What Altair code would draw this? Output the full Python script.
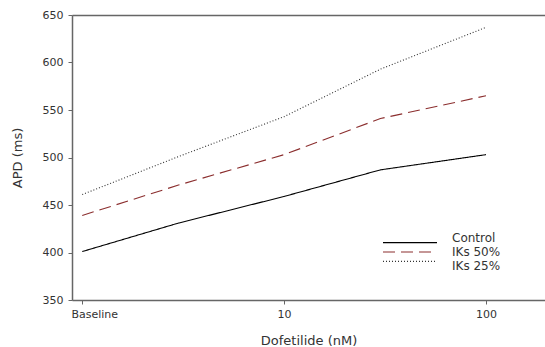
import altair as alt
import pandas as pd

conc = [1, 3, 10, 30, 100]  # 1 = Baseline position
control = [401, 431, 459, 487, 503]
iks50 = [439, 471, 503, 541, 565]
iks25 = [461, 501, 543, 593, 637]
series = ["Control", "IKs 50%", "IKs 25%"]
x_ticks = [1, 10, 100]
y_ticks = [350, 400, 450, 500, 550, 600, 650]

rows = []
for name, vals in zip(series, [control, iks50, iks25]):
    for c, v in zip(conc, vals):
        rows.append({"conc": c, "apd": v, "series": name})
df = pd.DataFrame(rows)
leg_df = pd.DataFrame({"series": series})

font = "DejaVu Sans"
axis_col = "#666666"
text_col = "#333333"

color_scale = alt.Scale(domain=series, range=["#000000", "#8B2E2E", "#333333"])
dash_scale = alt.Scale(domain=series, range=[[1, 0], [12, 6], [1, 2]])

lines = alt.Chart(df).mark_line(strokeWidth=1.1, clip=True).encode(
    x=alt.X("conc:Q",
            scale=alt.Scale(type="log", domain=[0.89, 196], nice=False),
            axis=alt.Axis(title="Dofetilide (nM)", values=x_ticks,
                          labelExpr="datum.value == 1 ? 'Baseline' : datum.label",
                          labelOffset={"condition": {"test": "datum.value == 1", "value": 12}, "value": 0},
                          grid=False, tickSize=4, domainColor=axis_col, tickColor=axis_col,
                          domainWidth=1.5, labelFont=font, labelFontSize=11, labelColor=text_col,
                          titleFont=font, titleFontSize=13, titleFontWeight="normal",
                          titleColor=text_col, labelPadding=4, titlePadding=15, labelFlush=False)),
    y=alt.Y("apd:Q",
            scale=alt.Scale(domain=[350, 650], nice=False),
            axis=alt.Axis(title="APD (ms)", values=y_ticks, grid=True,
                          gridColor={"condition": {"test": "datum.value == 650", "value": axis_col}, "value": "transparent"},
                          gridWidth=1.5,
                          tickSize=4, domainColor=axis_col, tickColor=axis_col, domainWidth=1.5,
                          labelFont=font, labelFontSize=11, labelColor=text_col, labelPadding=5,
                          titleFont=font, titleFontSize=13, titleFontWeight="normal",
                          titleColor=text_col, titlePadding=18)),
    color=alt.Color("series:N", scale=color_scale, legend=None),
    strokeDash=alt.StrokeDash("series:N", scale=dash_scale, legend=None),
    order="conc:Q",
)

leg_y = alt.Y("series:N", scale=alt.Scale(domain=series, range=[223, 251], padding=0), axis=None)

leg_rules = alt.Chart(leg_df).mark_rule(strokeWidth=1.1).encode(
    y=leg_y,
    x=alt.value(311), x2=alt.value(365),
    color=alt.Color("series:N", scale=color_scale, legend=None),
    strokeDash=alt.StrokeDash("series:N", scale=dash_scale, legend=None),
)

leg_text = alt.Chart(leg_df).mark_text(align="left", baseline="middle", font=font,
                                       fontSize=12, color=text_col).encode(
    y=leg_y,
    x=alt.value(380),
    text="series:N",
)

chart = alt.layer(lines, leg_rules, leg_text).resolve_scale(y="independent").properties(
    width=473, height=285,
    autosize=alt.AutoSizeParams(type="none"),
    padding={"left": 72, "top": 15, "right": 0, "bottom": 47},
).configure_view(stroke=None).configure(background="white")

chart.save("out.html", embed_options={"renderer": "svg", "actions": False})
